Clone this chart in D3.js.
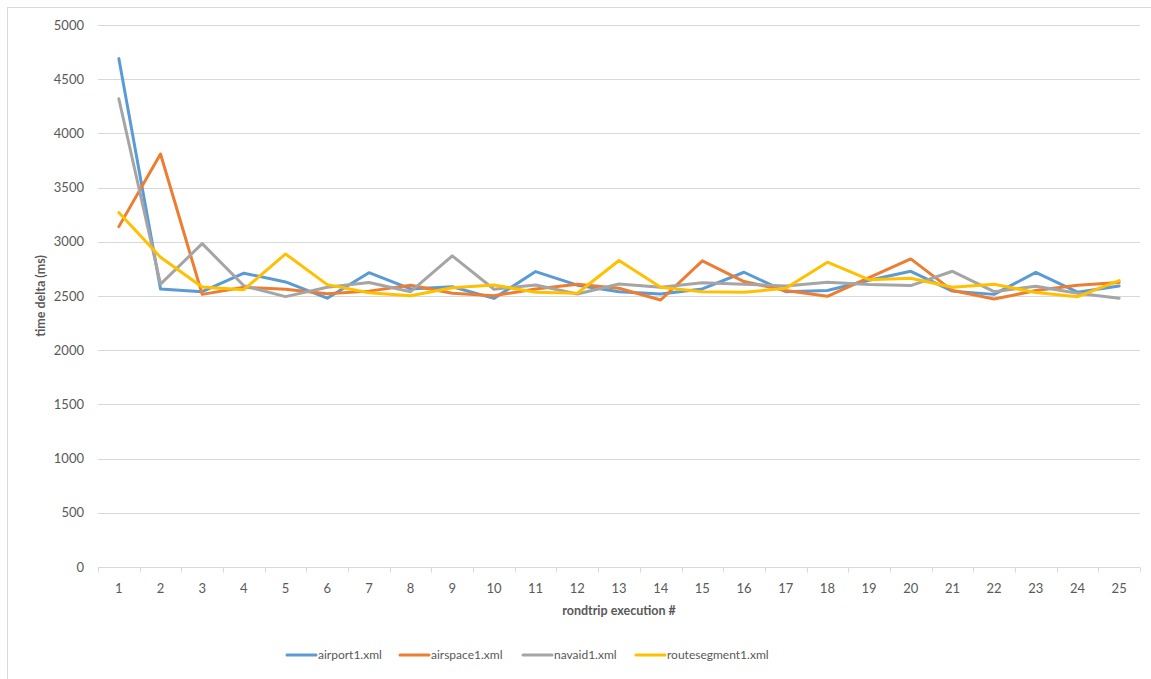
<!DOCTYPE html>
<html>
<head>
<meta charset="utf-8">
<script src="https://cdn.jsdelivr.net/npm/d3@7"></script>
<style>
  html, body { margin: 0; padding: 0; background: #fff; }
  svg { display: block; font-family: Lato, "Open Sans", sans-serif; }
</style>
</head>
<body>
<svg id="chart" width="1151" height="679"></svg>
<script>
// Round-trip execution number (x categories)
const executions = d3.range(1, 26);

// Time delta (ms) per round trip, one array per file
const airport = [4690, 2565, 2540, 2710, 2630, 2480, 2715, 2565, 2585, 2478, 2725, 2600, 2540, 2518, 2565, 2719, 2540, 2550, 2645, 2728, 2545, 2515, 2718, 2535, 2593];
const airspace = [3140, 3810, 2515, 2580, 2562, 2520, 2545, 2600, 2525, 2503, 2565, 2608, 2571, 2463, 2824, 2633, 2550, 2497, 2670, 2842, 2550, 2472, 2550, 2600, 2625];
const navaid = [4320, 2610, 2983, 2595, 2494, 2580, 2625, 2540, 2870, 2562, 2602, 2518, 2611, 2580, 2623, 2608, 2593, 2627, 2605, 2596, 2728, 2540, 2590, 2525, 2480];
const routesegment = [3270, 2857, 2583, 2558, 2888, 2605, 2530, 2503, 2577, 2602, 2534, 2525, 2827, 2580, 2540, 2534, 2571, 2812, 2650, 2664, 2580, 2608, 2532, 2494, 2642];

const seriesNames = ["airport1.xml", "airspace1.xml", "navaid1.xml", "routesegment1.xml"];
const seriesColors = ["#5B9BD5", "#ED7D31", "#A5A5A5", "#FFC000"];
const yTicks = [0, 500, 1000, 1500, 2000, 2500, 3000, 3500, 4000, 4500, 5000];

const series = [airport, airspace, navaid, routesegment].map((vals, i) => ({
  name: seriesNames[i], color: seriesColors[i], values: vals
}));

const svg = d3.select("#chart");
const textColor = "#595959";
const gridColor = "#D9D9D9";

// outer chart frame
svg.append("rect")
  .attr("x", 7.5).attr("y", 7.5)
  .attr("width", 1160).attr("height", 690)
  .attr("fill", "none").attr("stroke", gridColor).attr("stroke-width", 1);

const plot = { left: 98, right: 1140, top: 25, bottom: 567 };

const x = d3.scaleBand().domain(executions).range([plot.left, plot.right]).padding(0);
const y = d3.scaleLinear().domain([0, 5000]).range([plot.bottom, plot.top]);
const cx = d => x(d) + x.bandwidth() / 2;

// horizontal gridlines
svg.append("g")
  .selectAll("line")
  .data(yTicks.filter(t => t > 0))
  .join("line")
  .attr("x1", plot.left).attr("x2", plot.right)
  .attr("y1", d => Math.round(y(d)) + 0.5).attr("y2", d => Math.round(y(d)) + 0.5)
  .attr("stroke", gridColor).attr("stroke-width", 1);

// y axis labels
svg.append("g")
  .selectAll("text")
  .data(yTicks)
  .join("text")
  .attr("x", 84)
  .attr("y", d => y(d))
  .attr("dy", "0.35em")
  .attr("text-anchor", "end")
  .attr("font-size", 13)
  .attr("fill", textColor)
  .text(d => d);

// x axis line and category tick marks
const xAxis = svg.append("g").attr("transform", `translate(0,${Math.round(plot.bottom) + 0.5})`);
xAxis.append("line")
  .attr("x1", plot.left).attr("x2", plot.right)
  .attr("stroke", gridColor).attr("stroke-width", 1);
const boundaries = executions.map(d => x(d)).concat([plot.right]);
xAxis.selectAll("line.tick")
  .data(boundaries)
  .join("line")
  .attr("class", "tick")
  .attr("x1", d => Math.round(d) + 0.5).attr("x2", d => Math.round(d) + 0.5)
  .attr("y1", 0).attr("y2", 5)
  .attr("stroke", gridColor).attr("stroke-width", 1);
xAxis.selectAll("text")
  .data(executions)
  .join("text")
  .attr("x", d => cx(d))
  .attr("y", 25)
  .attr("text-anchor", "middle")
  .attr("font-size", 13)
  .attr("fill", textColor)
  .text(d => d);

// axis titles
svg.append("text")
  .attr("x", (plot.left + plot.right) / 2)
  .attr("y", 615)
  .attr("text-anchor", "middle")
  .attr("font-size", 12.5)
  .attr("font-weight", "bold")
  .attr("fill", textColor)
  .text("rondtrip execution #");

svg.append("text")
  .attr("transform", `translate(45,${(plot.top + plot.bottom) / 2}) rotate(-90)`)
  .attr("text-anchor", "middle")
  .attr("font-size", 12.5)
  .attr("font-weight", "bold")
  .attr("fill", textColor)
  .text("time delta (ms)");

// series lines
const line = d3.line()
  .x((v, i) => cx(executions[i]))
  .y(v => y(v));

svg.append("g")
  .selectAll("path")
  .data(series)
  .join("path")
  .attr("d", s => line(s.values))
  .attr("fill", "none")
  .attr("stroke", s => s.color)
  .attr("stroke-width", 3)
  .attr("stroke-linejoin", "round")
  .attr("stroke-linecap", "round");

// legend
const legendX = [287, 400, 523, 636];
const legend = svg.append("g")
  .selectAll("g")
  .data(series)
  .join("g")
  .attr("transform", (s, i) => `translate(${legendX[i]},655)`);
legend.append("line")
  .attr("x1", 0).attr("x2", 29)
  .attr("stroke", s => s.color)
  .attr("stroke-width", 3)
  .attr("stroke-linecap", "round");
legend.append("text")
  .attr("x", 31)
  .attr("dy", "0.35em")
  .attr("font-size", 12)
  .attr("fill", textColor)
  .text(s => s.name);
</script>
</body>
</html>
